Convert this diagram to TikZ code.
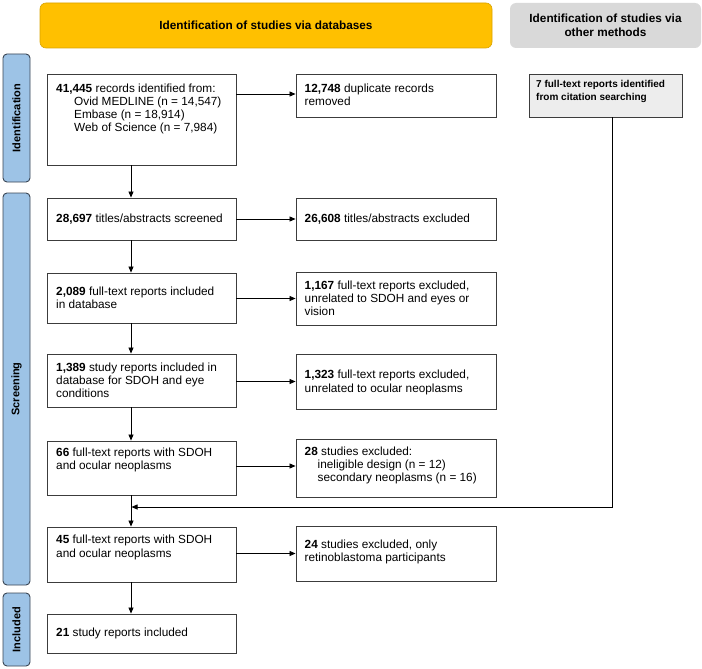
\documentclass[tikz,border=0pt]{standalone}
\usepackage{fontspec}
\setmainfont{Liberation Sans}
\usetikzlibrary{arrows.meta}
\definecolor{hdryel}{HTML}{FFC000}
\definecolor{hdryelb}{HTML}{D9A300}
\definecolor{hdrgry}{HTML}{D9D9D9}
\definecolor{sideblue}{HTML}{9DC3E6}
\definecolor{sidebord}{HTML}{3A4654}
\definecolor{boxbord}{HTML}{3C3C3C}
\definecolor{boxgry}{HTML}{EDEDED}
\tikzset{
  pbox/.style={draw=boxbord, line width=0.9pt, fill=white, rectangle, inner sep=0pt},
  gbox/.style={pbox, fill=boxgry},
  txt/.style={anchor=west, align=left, inner sep=0pt, font=\fontsize{11.8}{13.2}\selectfont},
  side/.style={draw=sidebord, line width=0.9pt, fill=sideblue, rounded corners=4pt, inner sep=0pt, minimum width=27pt},
  sidetxt/.style={rotate=90, font=\fontsize{11}{13}\selectfont\bfseries, inner sep=0pt},
  hdr/.style={rounded corners=6pt, inner sep=0pt, align=center, font=\fontsize{11.8}{14}\selectfont\bfseries},
  arr/.style={draw=black, line width=0.8pt, -{Triangle[length=6pt,width=5pt]}}
}
\begin{document}
\begin{tikzpicture}[x=1pt,y=-1pt]
\useasboundingbox (0,0) rectangle (702,669);
% headers
\node[hdr, fill=hdryel, draw=hdryelb, line width=0.6pt, minimum width=452pt, minimum height=45pt] (h1) at (266,25.5) {Identification of studies via databases};
\node[hdr, fill=hdrgry, minimum width=191pt, minimum height=45pt] (h2) at (605.5,25.5) {Identification of studies via\\other methods};
% side labels
\node[side, minimum height=128pt] (s1) at (16.5,118) {};
\node[sidetxt] (s1t) at (s1.center) {Identification};
\node[side, minimum height=392pt] (s2) at (16.5,389) {};
\node[sidetxt] (s2t) at (s2.center) {Screening};
\node[side, minimum height=73pt] (s3) at (16.5,629.5) {};
\node[sidetxt] (s3t) at (s3.center) {Included};
% axis coordinates
\coordinate (ax) at (131,0);
% boxes
\node[pbox, minimum width=189pt, minimum height=91pt] (b1) at (141.5,119.5) {};
\node[txt] (b1t) at (56,109) {\textbf{41,445} records identified from:\\\hspace{18pt}Ovid MEDLINE (n = 14,547)\\\hspace{18pt}Embase (n = 18,914)\\\hspace{18pt}Web of Science (n = 7,984)};
\node[pbox, minimum width=200pt, minimum height=43pt] (e1) at (396,95.5) {};
\node[txt] (e1t) at (304.5,94.5) {\textbf{12,748} duplicate records\\removed};
\node[gbox, minimum width=153pt, minimum height=43pt] (o1) at (605.5,95.5) {};
\node[txt, font=\fontsize{10}{13.5}\selectfont\bfseries] (o1t) at (536,91.5) {7 full-text reports identified\\from citation searching};
\node[pbox, minimum width=189pt, minimum height=42pt] (b2) at (141.5,219) {};
\node[txt] (b2t) at (56,219) {\textbf{28,697} titles/abstracts screened};
\node[pbox, minimum width=200pt, minimum height=42pt] (e2) at (396,219) {};
\node[txt] (e2t) at (304.5,219) {\textbf{26,608} titles/abstracts excluded};
\node[pbox, minimum width=189pt, minimum height=50pt] (b3) at (141.5,298) {};
\node[txt] (b3t) at (56,297.5) {\textbf{2,089} full-text reports included\\in database};
\node[pbox, minimum width=200pt, minimum height=53pt] (e3) at (396,298.5) {};
\node[txt] (e3t) at (304.5,298) {\textbf{1,167} full-text reports excluded,\\unrelated to SDOH and eyes or\\vision};
\node[pbox, minimum width=189pt, minimum height=53pt] (b4) at (141.5,380.5) {};
\node[txt] (b4t) at (56,380.5) {\textbf{1,389} study reports included in\\database for SDOH and eye\\conditions};
\node[pbox, minimum width=200pt, minimum height=55pt] (e4) at (396,381.5) {};
\node[txt] (e4t) at (304.5,382.5) {\textbf{1,323} full-text reports excluded,\\unrelated to ocular neoplasms};
\node[pbox, minimum width=189pt, minimum height=54pt] (b5) at (141.5,468) {};
\node[txt] (b5t) at (56,460) {\textbf{66} full-text reports with SDOH\\and ocular neoplasms};
\node[pbox, minimum width=200pt, minimum height=58pt] (e5) at (396,468) {};
\node[txt] (e5t) at (304.5,465.5) {\textbf{28} studies excluded:\\\hspace{13pt}ineligible design (n = 12)\\\hspace{13pt}secondary neoplasms (n = 16)};
\node[pbox, minimum width=189pt, minimum height=55pt] (b6) at (141.5,554.5) {};
\node[txt] (b6t) at (56,547.5) {\textbf{45} full-text reports with SDOH\\and ocular neoplasms};
\node[pbox, minimum width=200pt, minimum height=55pt] (e6) at (396,553.5) {};
\node[txt] (e6t) at (304.5,552) {\textbf{24} studies excluded, only\\retinoblastoma participants};
\node[pbox, minimum width=189pt, minimum height=39pt] (b7) at (141.5,633.5) {};
\node[txt] (b7t) at (56,633.5) {\textbf{21} study reports included};
% horizontal arrows
\draw[arr] (b1.east |- 0,94) -- (e1.west |- 0,94);
\draw[arr] (b2.east |- e2.west) -- (e2.west);
\draw[arr] (b3.east |- e3.west) -- (e3.west);
\draw[arr] (b4.east |- e4.west) -- (e4.west);
\draw[arr] (b5.east |- 0,466) -- (e5.west |- 0,466);
\draw[arr] (b6.east |- e6.west) -- (e6.west);
% vertical arrows
\draw[arr] (b1.south -| ax) -- (b2.north -| ax);
\draw[arr] (b2.south -| ax) -- (b3.north -| ax);
\draw[arr] (b3.south -| ax) -- (b4.north -| ax);
\draw[arr] (b4.south -| ax) -- (b5.north -| ax);
\draw[arr] (b5.south -| ax) -- (b6.north -| ax);
\draw[arr] (b6.south -| ax) -- (b7.north -| ax);
% other methods merge
\coordinate (mj) at (131.5,507);
\draw[arr] (o1.south -| 612,0) |- (mj);
\end{tikzpicture}
\end{document}
